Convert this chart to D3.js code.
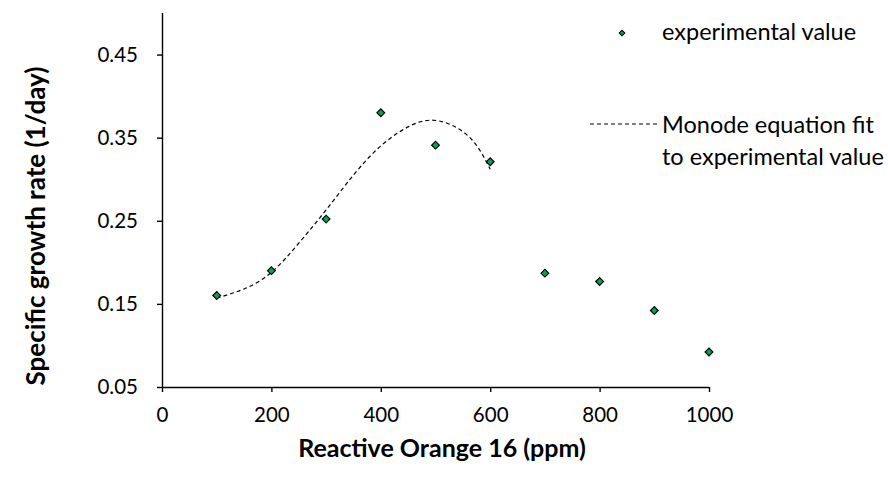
<!DOCTYPE html>
<html><head><meta charset="utf-8">
<script src="https://cdn.jsdelivr.net/npm/d3@7"></script>
<style>body{margin:0;background:#fff}svg{display:block}text{font-family:Lato,"Open Sans",sans-serif;fill:#000}</style>
</head><body><svg id="c" width="888" height="481"></svg>
<script>
const concentrations = [100,200,300,400,500,600,700,800,900,1000];
const growthRates = [0.16,0.19,0.252,0.38,0.341,0.321,0.187,0.177,0.142,0.092];
const fitX = [100,150,200,250,300,350,400,450,490,530,570,600];
const fitY = [0.157,0.168,0.188,0.223,0.263,0.305,0.340,0.363,0.371,0.365,0.345,0.312];
const xTicks = [0,200,400,600,800,1000];
const yTicks = [0.05,0.15,0.25,0.35,0.45];
const legendLabels = ["experimental value", ["Monode equation fit","to experimental value"]];

const svg = d3.select("#c");
const x = d3.scaleLinear().domain([0,1000]).range([162,709]);
const y = d3.scaleLinear().domain([0.05,0.5]).range([387,13]);

const xAxis = svg.append("g").attr("transform","translate(0,387)")
  .call(d3.axisBottom(x).tickValues(xTicks).tickFormat(d3.format("d")).tickSize(5).tickPadding(15));
const yAxis = svg.append("g").attr("transform","translate(162,0)")
  .call(d3.axisLeft(y).tickValues(yTicks).tickFormat(d3.format(".2f")).tickSize(5).tickPadding(19));
[xAxis,yAxis].forEach(a=>{
  a.selectAll("path,line").attr("stroke","#000").attr("stroke-width",1.4);
  a.selectAll("text").attr("font-size",20.5).attr("font-family","Lato,'Open Sans',sans-serif").attr("fill","#000");
});
yAxis.select(".domain").attr("d","M0.5,387V13");
xAxis.select(".domain").attr("d","M162,0.5H709");

svg.append("text").attr("x",442).attr("y",457).attr("text-anchor","middle")
  .attr("font-size",25).attr("font-weight","bold").text("Reactive Orange 16 (ppm)");
svg.append("text").attr("transform","translate(45,226) rotate(-90)").attr("text-anchor","middle")
  .attr("font-size",26).attr("font-weight","bold").text("Specific growth rate (1/day)");

const line = d3.line().x((d,i)=>x(fitX[i])).y(d=>y(d)).curve(d3.curveNatural);
svg.append("path").datum(fitY).attr("d",line).attr("fill","none")
  .attr("stroke","#000").attr("stroke-width",1.2).attr("stroke-dasharray","4,3");

const marker = d3.symbol().type(d3.symbolSquare).size(30);
svg.append("g").selectAll("path").data(growthRates).join("path")
  .attr("d",marker)
  .attr("transform",(d,i)=>`translate(${x(concentrations[i])},${y(d)}) rotate(45)`)
  .attr("fill","#00a651").attr("stroke","#000").attr("stroke-width",1.2);

// legend
svg.append("path").attr("d",d3.symbol().type(d3.symbolSquare).size(16))
  .attr("transform","translate(622,33) rotate(45)").attr("fill","#00a651").attr("stroke","#000").attr("stroke-width",1);
svg.append("text").attr("x",662).attr("y",40).attr("font-size",23.5).text(legendLabels[0]);
svg.append("line").attr("x1",590).attr("x2",657).attr("y1",124).attr("y2",124)
  .attr("stroke","#000").attr("stroke-width",1.1).attr("stroke-dasharray","4,3");
svg.append("text").attr("x",662).attr("y",133).attr("font-size",23.5).text(legendLabels[1][0]);
svg.append("text").attr("x",662).attr("y",165).attr("font-size",23.5).text(legendLabels[1][1]);
</script></body></html>
